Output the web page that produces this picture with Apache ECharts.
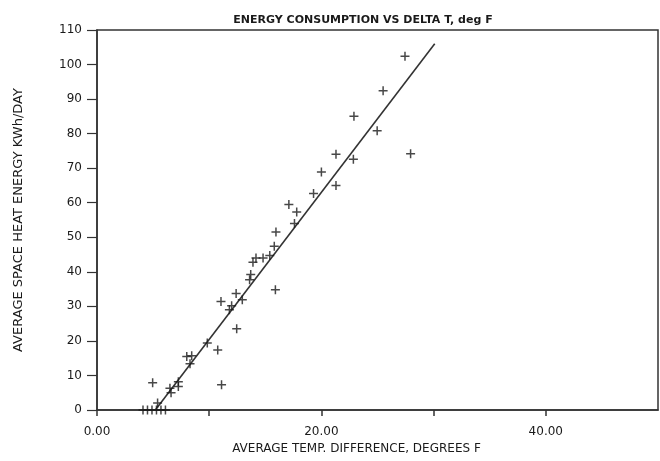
<!DOCTYPE html>
<html>
<head>
<meta charset="utf-8">
<script src="https://cdn.jsdelivr.net/npm/echarts@6/dist/echarts.min.js"></script>
<style>
  html, body { margin: 0; padding: 0; background: #fff; }
  #chart { width: 660px; height: 461px; }
</style>
</head>
<body>
<div id="chart"></div>
<script>
// temp difference (deg F) vs space heat energy (kWh/day)
const deltaT = [
  4.1, 4.5, 4.9, 5.3, 5.7, 6.1, 5.4, 4.96, 6.5, 6.6, 7.25, 7.25, 8.0, 8.44, 8.29,
  9.83, 10.76, 11.1, 11.05, 11.8, 12.0, 12.45, 12.4, 12.95, 13.6, 13.7, 13.9, 14.17,
  14.8, 15.4, 15.8, 15.95, 15.9, 17.1, 17.8, 17.6, 19.3, 20.0, 21.3, 21.3, 22.85,
  22.9, 24.97, 25.5, 27.45, 27.95
]
const energy = [
  0, 0, 0, 0, 0, 0, 2.0, 7.9, 6.3, 5.0, 8.2, 6.8, 15.5, 15.7, 13.4,
  19.4, 17.4, 7.3, 31.4, 29.0, 30.2, 23.5, 33.7, 31.9, 37.7, 39.2, 42.8, 44.0,
  44.0, 44.7, 47.4, 51.5, 34.8, 59.5, 57.3, 54.0, 62.7, 68.9, 74.0, 65.0, 72.6,
  85.0, 80.8, 92.4, 102.4, 74.2
]
// fitted line end points
const fitX = [5.2, 30.1]
const fitY = [0, 106]

const xTicks = [0, 20, 40]

const chart = echarts.init(document.getElementById('chart'))

const ink = '#1a1a1a'
const font = 'DejaVu Sans, sans-serif'

const option = {
  animation: false,
  title: {
    text: 'ENERGY CONSUMPTION VS DELTA T, deg F',
    left: 358,
    top: 10,
    textAlign: 'center',
    textStyle: { fontSize: 11, fontWeight: 'bold', color: ink, fontFamily: font },
  },
  grid: {
    left: 97,
    right: 2,
    top: 30,
    bottom: 51,
    show: true,
    borderColor: '#333',
    borderWidth: 1.5,
    backgroundColor: 'transparent',
  },
  xAxis: {
    type: 'value',
    min: 0,
    max: 50,
    interval: 10,
    name: 'AVERAGE TEMP. DIFFERENCE, DEGREES F',
    nameLocation: 'middle',
    nameGap: 31,
    nameTextStyle: { fontSize: 12, color: ink, fontFamily: font, padding: [0, 42, 0, 0] },
    axisLine: { show: true, onZero: false, lineStyle: { color: '#333', width: 1.5 } },
    axisTick: { show: true, inside: false, length: 6, lineStyle: { color: '#333', width: 1.5 } },
    axisLabel: {
      fontSize: 12,
      color: ink,
      fontFamily: font,
      margin: 16,
      showMaxLabel: false,
      formatter: (v) => (xTicks.includes(v) ? v.toFixed(2) : ''),
    },
    splitLine: { show: false },
  },
  yAxis: {
    type: 'value',
    min: 0,
    max: 110,
    interval: 10,
    name: 'AVERAGE SPACE HEAT ENERGY KWh/DAY',
    nameLocation: 'middle',
    nameGap: 72,
    nameTextStyle: { fontSize: 13, color: ink, fontFamily: font },
    axisLine: { show: true, lineStyle: { color: '#333', width: 1.5 } },
    axisTick: { show: true, length: 10, lineStyle: { color: '#333', width: 1.2 } },
    axisLabel: { fontSize: 12, color: ink, fontFamily: font, margin: 15 },
    splitLine: { show: false },
  },
  series: [
    {
      type: 'line',
      data: fitX.map((x, i) => [x, fitY[i]]),
      symbol: 'none',
      lineStyle: { color: '#333', width: 1.6 },
      z: 2,
    },
    {
      type: 'scatter',
      data: deltaT.map((x, i) => [x, energy[i]]),
      symbol: 'path://M0,5L10,5M5,0L5,10',
      symbolSize: 9,
      itemStyle: { color: 'none', borderColor: ink, borderWidth: 1.5 },
      z: 3,
    },
  ],
}

chart.setOption(option)
</script>
</body>
</html>
